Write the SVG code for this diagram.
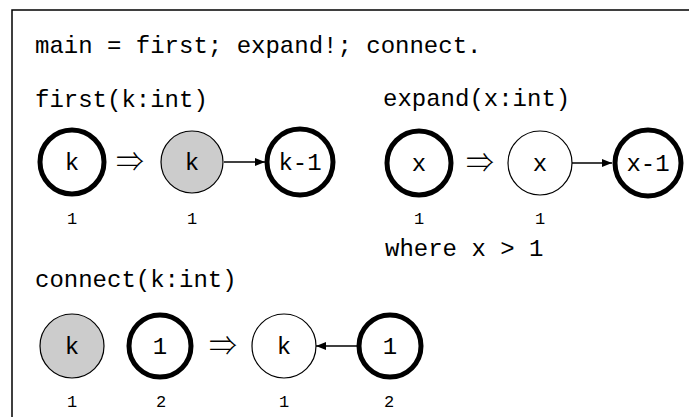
<svg xmlns="http://www.w3.org/2000/svg" width="689" height="417" viewBox="0 0 689 417">
<defs>
<style>
.t{font-family:"Liberation Mono","DejaVu Sans Mono",monospace;font-size:24px;fill:#000}
.c{font-family:"Liberation Mono","DejaVu Sans Mono",monospace;font-size:24px;fill:#000;text-anchor:middle}
.l{font-family:"Liberation Mono","DejaVu Sans Mono",monospace;font-size:17px;fill:#000;text-anchor:middle}
.ar{font-family:"Noto Sans CJK JP","DejaVu Serif",serif;font-size:28px;font-weight:300;fill:#000;text-anchor:middle}
.thick{fill:#fff;stroke:#000;stroke-width:5}
.thin{fill:#fff;stroke:#000;stroke-width:1.2}
.grey{fill:#cccccc;stroke:#000;stroke-width:1.2}
.edge{stroke:#000;stroke-width:1.5;fill:none}
</style>
<marker id="ah" viewBox="0 0 10 8" refX="10" refY="4" markerWidth="10" markerHeight="8" markerUnits="userSpaceOnUse" orient="auto">
<path d="M0,0 L10,4 L0,8 z" fill="#000"/>
</marker>
</defs>
<rect width="689" height="417" fill="#fff"/>
<path d="M12,417 V10 H689" fill="none" stroke="#000" stroke-width="1.5"/>

<text class="t" x="35" y="53">main = first; expand!; connect.</text>
<text class="t" x="35" y="107">first(k:int)</text>
<text class="t" x="383" y="106">expand(x:int)</text>
<text class="t" x="35" y="287">connect(k:int)</text>
<text class="t" x="385" y="256">where x &gt; 1</text>

<text class="ar" x="130" y="172">⇒</text>
<text class="ar" x="480" y="173">⇒</text>
<text class="ar" x="223" y="356">⇒</text>

<g id="connectors">
<line class="edge" x1="224" y1="162" x2="265" y2="162" marker-end="url(#ah)"/>
<line class="edge" x1="572" y1="163" x2="612" y2="163" marker-end="url(#ah)"/>
<line class="edge" x1="357" y1="346" x2="316" y2="346" marker-end="url(#ah)"/>
</g>

<g id="f1"><circle class="thick" cx="72" cy="162" r="32"/><text class="c" x="72" y="170">k</text><text class="l" x="72" y="224">1</text></g>
<g id="f2"><circle class="grey" cx="192" cy="162" r="31"/><text class="c" x="192" y="170">k</text><text class="l" x="192" y="224">1</text></g>
<g id="f3"><circle class="thick" cx="300" cy="162" r="33"/><text class="c" x="300" y="170">k-1</text></g>

<g id="e1"><circle class="thick" cx="419" cy="163" r="32"/><text class="c" x="419" y="171">x</text><text class="l" x="419" y="224">1</text></g>
<g id="e2"><circle class="thin" cx="540" cy="163" r="32"/><text class="c" x="540" y="171">x</text><text class="l" x="540" y="224">1</text></g>
<g id="e3"><circle class="thick" cx="648" cy="163" r="33"/><text class="c" x="648" y="171">x-1</text></g>

<g id="c1"><circle class="grey" cx="72" cy="346" r="32"/><text class="c" x="72" y="354">k</text><text class="l" x="72" y="407">1</text></g>
<g id="c2"><circle class="thick" cx="160" cy="346" r="31"/><text class="c" x="160" y="354">1</text><text class="l" x="161" y="407">2</text></g>
<g id="c3"><circle class="thin" cx="284" cy="346" r="32"/><text class="c" x="284" y="354">k</text><text class="l" x="284" y="407">1</text></g>
<g id="c4"><circle class="thick" cx="390" cy="346" r="31"/><text class="c" x="390" y="354">1</text><text class="l" x="389" y="407">2</text></g>
</svg>
